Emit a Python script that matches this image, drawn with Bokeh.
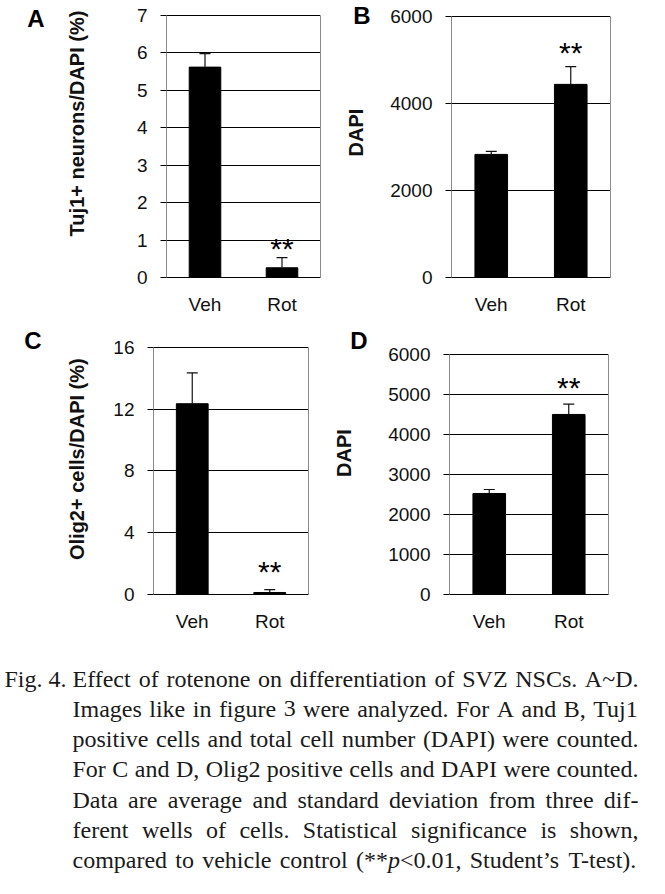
import math
from bokeh.plotting import figure
from bokeh.layouts import column, row
from bokeh.models import (Range1d, FixedTicker, Whisker, TeeHead, ColumnDataSource,
                          LinearAxis)
from bokeh.core.properties import value
from bokeh.embed import file_html
from bokeh.resources import INLINE

# ---------------- data ----------------
categories = ["Veh", "Rot"]

tuj1_mean = [5.62, 0.26]
tuj1_sd = [0.36, 0.27]

dapi_ab_mean = [2830, 4440]
dapi_ab_sd = [70, 410]

olig2_mean = [12.35, 0.13]
olig2_sd = [2.0, 0.18]

dapi_cd_mean = [2530, 4510]
dapi_cd_sd = [100, 260]

significant = [False, True]   # "**" p<0.01

a_ticks = [0, 1, 2, 3, 4, 5, 6, 7]
b_ticks = [0, 2000, 4000, 6000]
c_ticks = [0, 4, 8, 12, 16]
d_ticks = [0, 1000, 2000, 3000, 4000, 5000, 6000]

caption_lead = "Fig. 4."
caption_lines = [
    "Effect of rotenone on differentiation of SVZ NSCs. A~D.",
    "Images like in figure 3 were analyzed. For A and B, Tuj1",
    "positive cells and total cell number (DAPI) were counted.",
    "For C and D, Olig2 positive cells and DAPI were counted.",
    "Data are average and standard deviation from three dif-",
    "ferent wells of cells. Statistical significance is shown,",
    "compared to vehicle control (**_p_<0.01, Student\u2019s T-test).",
]

SANS = "Liberation Sans"
SERIF = "Liberation Serif"
TICK_FS = 19
GRAY = "#8a8a8a"
LETTER_W = 0.722 * 24     # bold capital at 24px
TITLE_H = 23              # extent of a vertical 20px bold label


def panel(letter, ylabel, means, sds, ticks, origin, size, frame, ext,
          star_dy, letter_right, letter_cy, ylab_cx, ylab_cy, order):
    ox, oy = origin
    fw, fh = size
    FL, FR, FT, FB = frame
    bl, br = FL - ox, ox + fw - FR
    bt, bb = FT - ext - oy, oy + fh - FB
    frame_h = FB - FT + ext
    ymax = ticks[-1]
    y_end = ymax * (1 + ext / float(FB - FT))

    p = figure(width=fw, height=fh, x_range=Range1d(-0.5, 1.5),
               y_range=Range1d(0, y_end), output_backend="svg",
               toolbar_location=None, min_border_left=bl, min_border_right=br,
               min_border_top=bt, min_border_bottom=bb)
    p.background_fill_color = "white"
    p.border_fill_color = "white"
    p.outline_line_color = None

    xs = list(range(len(categories)))
    p.vbar(x=xs, top=means, bottom=0, width=0.41,
           fill_color="black", line_color="black")

    upper = [m + s for m, s in zip(means, sds)]
    src = ColumnDataSource(dict(x=xs, lower=means, upper=upper))
    p.add_layout(Whisker(base="x", lower="lower", upper="upper", source=src,
                         lower_head=None,
                         upper_head=TeeHead(size=11, line_color="#111111", line_width=1.2),
                         line_color="#111111", line_width=1.2, level="glyph"))

    fs = 30
    sx = [x for x, s in zip(xs, significant) if s]
    sy = [u for u, s in zip(upper, significant) if s]
    p.text(x=sx, y=sy, text=["**"] * len(sx), text_align="center",
           text_baseline="middle", y_offset=-(star_dy - 0.25 * fs),
           text_font=value(SANS), text_font_size=f"{fs}px", text_color="black")

    # x axis
    xa = p.xaxis[0]
    xa.ticker = FixedTicker(ticks=xs)
    xa.major_label_overrides = {i: c for i, c in enumerate(categories)}
    xa.major_tick_line_color = None
    xa.minor_tick_line_color = None
    xa.axis_line_color = "black"
    xa.axis_line_width = 1.2
    xa.major_label_standoff = 10
    xa.major_label_text_font = SANS
    xa.major_label_text_font_size = f"{TICK_FS}px"
    xa.major_label_text_color = "#111111"

    # main y axis: numbers only
    ya = p.yaxis[0]
    ya.ticker = FixedTicker(ticks=ticks)
    ya.bounds = (0, ymax)
    ya.major_tick_out = 6
    ya.major_tick_in = 0
    ya.minor_tick_line_color = None
    ya.major_tick_line_color = "black"
    ya.major_tick_line_width = 1.2
    ya.axis_line_color = GRAY
    ya.major_label_standoff = 13
    ya.major_label_text_font = SANS
    ya.major_label_text_font_size = f"{TICK_FS}px"
    ya.major_label_text_color = "#111111"

    p.xgrid.visible = False
    p.ygrid.ticker = FixedTicker(ticks=ticks)
    p.ygrid.grid_line_color = "black"
    p.ygrid.grid_line_width = 1.2

    # right frame border
    p.add_layout(LinearAxis(ticker=FixedTicker(ticks=[]), bounds=(0, ymax),
                            axis_line_color=GRAY, major_tick_line_color=None,
                            minor_tick_line_color=None, major_tick_out=0,
                            major_tick_in=0, major_label_standoff=0), "right")

    # extra left axes (pixel range): panel letter and rotated y title
    p.extra_y_ranges = {"px": Range1d(0, frame_h)}
    widest = max(len(str(t)) for t in ticks) * 0.556 * TICK_FS
    edge = FL - math.ceil(6 + 13 + widest)
    for kind in order:
        if kind == "letter":
            s = int(round(edge - letter_right))
            tv = float(FB - letter_cy)
            ax = LinearAxis(y_range_name="px", ticker=FixedTicker(ticks=[tv]),
                            major_label_overrides={tv: letter},
                            major_label_standoff=s,
                            major_label_text_font=SANS,
                            major_label_text_font_style="bold",
                            major_label_text_font_size="24px",
                            major_label_text_color="black")
            ext_w = s + LETTER_W
        else:
            s = int(round(edge - (ylab_cx + TITLE_H / 2.0)))
            tv = float(FB - ylab_cy)
            ax = LinearAxis(y_range_name="px", ticker=FixedTicker(ticks=[tv]),
                            major_label_overrides={tv: ylabel},
                            major_label_orientation="vertical",
                            major_label_standoff=s,
                            major_label_text_font=SANS,
                            major_label_text_font_style="bold",
                            major_label_text_font_size="20px",
                            major_label_text_color="#111111")
            ext_w = s + TITLE_H
        ax.axis_line_color = None
        ax.major_tick_line_color = None
        ax.minor_tick_line_color = None
        ax.major_tick_out = 0
        ax.major_tick_in = 0
        p.add_layout(ax, "left")
        edge = edge - math.ceil(ext_w)
    return p


pA = panel("A", "Tuj1+ neurons/DAPI (%)", tuj1_mean, tuj1_sd, a_ticks,
           (8, 8), (322, 318), (174, 328, 20, 288), 2, 17, 57, 23.5, 86, 130.5,
           ["title", "letter"])
pB = panel("B", "DAPI", dapi_ab_mean, dapi_ab_sd, b_ticks,
           (330, 8), (327, 318), (459, 618, 24, 285), 3, 22, 380, 22.5, 367, 140,
           ["letter", "title"])
pC = panel("C", "Olig2+ cells/DAPI (%)", olig2_mean, olig2_sd, c_ticks,
           (8, 326), (322, 316), (161, 316, 352, 604), 8, 26, 53, 345.5, 86, 466,
           ["title", "letter"])
pD = panel("D", "DAPI", dapi_cd_mean, dapi_cd_sd, d_ticks,
           (330, 326), (327, 316), (457, 616, 363, 611), 16, 24, 377, 348.5, 356, 464.5,
           ["letter", "title"])

# ---------------- caption ----------------
W = {' ': 250, '(': 333, ')': 333, '*': 500, ',': 250, '-': 333, '.': 250,
     '/': 278, ':': 278, '<': 564, '~': 541, '\u2019': 333, "'": 180}
for d in "0123456789":
    W[d] = 500
W.update(dict(zip("ABCDEFGHIJKLMNOPQRSTUVWXYZ",
                  [722, 667, 667, 722, 611, 556, 722, 722, 333, 389, 722, 611, 889,
                   722, 722, 556, 722, 667, 556, 611, 722, 722, 944, 722, 722, 611])))
W.update(dict(zip("abcdefghijklmnopqrstuvwxyz",
                  [444, 500, 444, 500, 444, 333, 500, 500, 278, 278, 500, 278, 778,
                   500, 500, 500, 500, 333, 389, 278, 500, 500, 722, 500, 500, 444])))

CFS = 24
cap_w, cap_h = 649, 244


def tw(s):
    return sum(W.get(ch, 500) for ch in s) * CFS / 1000.0


cap = figure(width=cap_w, height=cap_h, x_range=Range1d(0, cap_w),
             y_range=Range1d(cap_h, 0), output_backend="svg",
             toolbar_location=None, min_border=0,
             x_axis_location=None, y_axis_location=None)
cap.grid.visible = False
cap.outline_line_color = None
cap.background_fill_color = "white"
cap.border_fill_color = "white"

left_x, right_x, lead_x = 72, 638, 4
base0, lstep = 44.0, 30.33

nx, ny, nt, ix, iy, it = [], [], [], [], [], []
nx.append(lead_x); ny.append(base0); nt.append(caption_lead)
for li, line in enumerate(caption_lines):
    y = base0 + li * lstep
    words = line.split(" ")
    plain = [wd.replace("_", "") for wd in words]
    widths = [tw(wd) for wd in plain]
    gap = (right_x - left_x - sum(widths)) / (len(words) - 1)
    x = left_x
    for wd, wdt in zip(words, widths):
        parts = wd.split("_")
        px = x
        for k, part in enumerate(parts):
            if not part:
                continue
            if k % 2 == 1:
                ix.append(px); iy.append(y); it.append(part)
            else:
                nx.append(px); ny.append(y); nt.append(part)
            px += tw(part)
        x += wdt + gap

cap.text(x=nx, y=ny, text=nt, text_font=value(SERIF), text_font_size=f"{CFS}px",
         text_baseline="alphabetic", text_align="left", text_color="#1a1a1a")
cap.text(x=ix, y=iy, text=it, text_font=value(SERIF), text_font_size=f"{CFS}px",
         text_font_style="italic", text_baseline="alphabetic", text_align="left",
         text_color="#1a1a1a")

layout = column(row(pA, pB, spacing=0), row(pC, pD, spacing=0), cap, spacing=0)

open("out.html", "w").write(file_html(layout, INLINE))
